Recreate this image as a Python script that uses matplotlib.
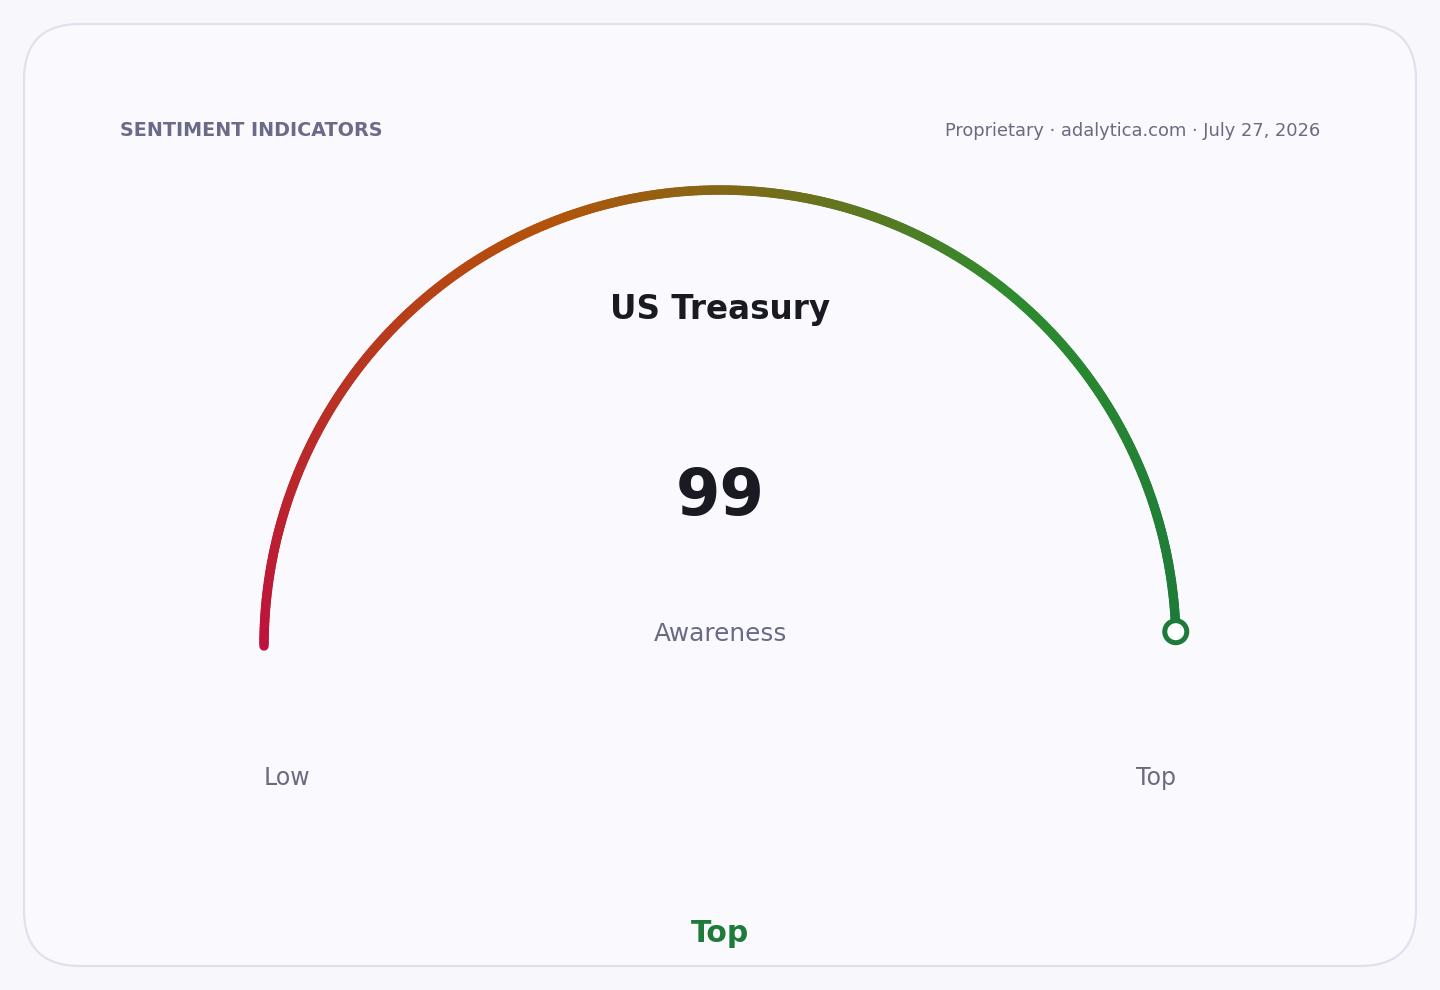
import numpy as np
import matplotlib.pyplot as plt
from matplotlib.collections import LineCollection
from matplotlib.colors import LinearSegmentedColormap
from matplotlib.patches import FancyBboxPatch, Circle

# data
title = "US Treasury"
metric_name = "Awareness"
value = 99
value_min, value_max = 0, 100
end_labels = ["Low", "Top"]
rating = "Top"
header_left = "SENTIMENT INDICATORS"
header_right = "Proprietary \u00b7 adalytica.com \u00b7 July 27, 2026"

W, H = 1440, 990
fig = plt.figure(figsize=(W / 100, H / 100), dpi=100)
fig.patch.set_facecolor("#f8f8fc")
ax = fig.add_axes([0, 0, 1, 1])
ax.set_xlim(0, W)
ax.set_ylim(H, 0)
ax.axis("off")

# card
card = FancyBboxPatch((24, 24), 1392, 942, boxstyle="round,pad=0,rounding_size=56",
                      facecolor="#f9f9fe", edgecolor="#e1e1ee", linewidth=1.6)
ax.add_patch(card)

ax.text(120, 130, header_left, fontsize=13.8, fontweight="bold", color="#6b6a88",
        ha="left", va="center")
ax.text(1320, 131, header_right, fontsize=12.9, color="#6b6a80", ha="right", va="center")

# gauge arc, colour follows the sweep angle
cx, cy, r = 720, 646, 456
frac = (value - value_min) / (value_max - value_min)
t = np.linspace(0, frac, 400)
theta = np.pi * (1 - t)
xs = cx + r * np.cos(theta)
ys = cy - r * np.sin(theta)
pts = np.column_stack([xs, ys]).reshape(-1, 1, 2)
segs = np.concatenate([pts[:-1], pts[1:]], axis=1)

cmap = LinearSegmentedColormap.from_list(
    "gauge", [(0.0, "#be123c"), (0.38, "#b45309"), (0.72, "#2e8b2e"), (1.0, "#1c7a3a")])
pos = (t[:-1] + t[1:]) / 2
lc = LineCollection(segs, colors=cmap(pos), linewidths=6.8, capstyle="round",
                    joinstyle="round")
ax.add_collection(lc)

# marker
mx, my = xs[-1], ys[-1]
ax.add_patch(Circle((mx, my), 11, facecolor="white", edgecolor=cmap(1.0),
                    linewidth=3.6, zorder=5))

ax.text(cx, 310, title, fontsize=23.5, fontweight="bold", color="#1a1a22",
        ha="center", va="center")
ax.text(cx, 497, str(value), fontsize=46, fontweight="bold", color="#1a1a22",
        ha="center", va="center")
ax.text(cx, 634, metric_name, fontsize=17.8, color="#6b6a85", ha="center", va="center")

ax.text(cx - r, 778, end_labels[0], fontsize=17, color="#6b6a80", ha="left", va="center")
ax.text(cx + r, 778, end_labels[1], fontsize=17, color="#6b6a80", ha="right", va="center")

ax.text(cx, 933, rating, fontsize=21.5, fontweight="bold", color="#1e7b3a",
        ha="center", va="center")

fig.savefig("out.png", dpi=100, facecolor=fig.get_facecolor())
